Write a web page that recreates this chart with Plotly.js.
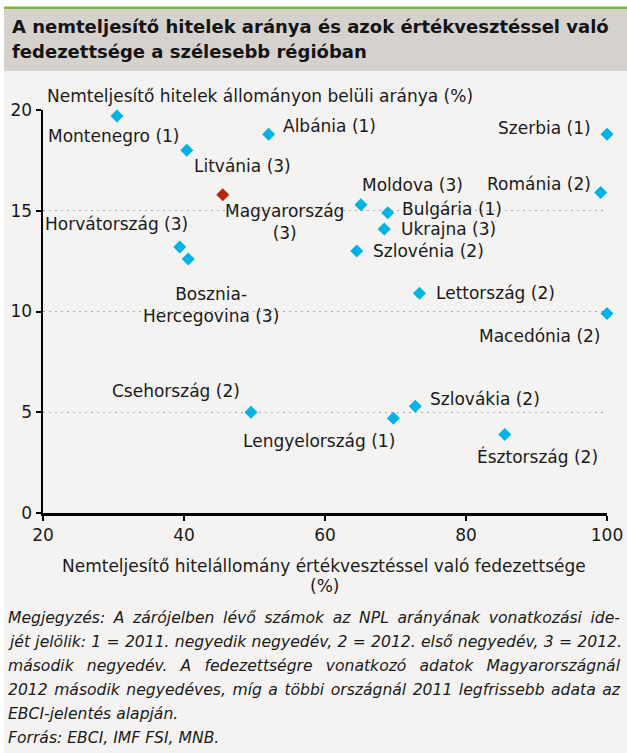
<!DOCTYPE html>
<html>
<head>
<meta charset="utf-8">
<script src="https://cdn.plot.ly/plotly-3.0.1.min.js"></script>
<style>html,body{margin:0;padding:0;background:#fff;}#chart{width:627px;height:753px;}</style>
</head>
<body>
<div id="chart"></div>
<script>
// ---- data ----
const countries = ['Montenegro (1)', 'Albánia (1)', 'Litvánia (3)', 'Horvátország (3)', 'Bosznia-<br>Hercegovina (3)',
  'Szerbia (1)', 'Románia (2)', 'Moldova (3)', 'Bulgária (1)', 'Ukrajna (3)', 'Szlovénia (2)', 'Lettország (2)',
  'Macedónia (2)', 'Csehország (2)', 'Szlovákia (2)', 'Lengyelország (1)', 'Észtország (2)'];
const coverage = [30.5, 52.0, 40.4, 39.4, 40.6, 100.0, 99.1, 65.1, 68.9, 68.4, 64.5, 73.4, 100.0, 49.5, 72.8, 69.7, 85.5];
const nplRatio = [19.7, 18.8, 18.0, 13.2, 12.6, 18.8, 15.9, 15.3, 14.9, 14.1, 13.0, 10.9, 9.9, 5.0, 5.3, 4.7, 3.9];
const huLabel = ['Magyarország<br>(3)'];
const huCoverage = [45.5];
const huNpl = [15.8];
const xTicks = [20, 40, 60, 80, 100];
const yTicks = [0, 5, 10, 15, 20];
const titleLines = ['A nemteljesítő hitelek aránya és azok értékvesztéssel való', 'fedezettsége a szélesebb régióban'];
const yTitle = 'Nemteljesítő hitelek állományon belüli aránya (%)';
const xTitleLines = ['Nemteljesítő hitelállomány értékvesztéssel való fedezettsége', '(%)'];
const noteLines = [
  'Megjegyzés: A zárójelben lévő számok az NPL arányának vonatkozási ide-',
  'jét jelölik: 1 = 2011. negyedik negyedév, 2 = 2012. első negyedév, 3 = 2012.',
  'második negyedév. A fedezettségre vonatkozó adatok Magyarországnál',
  '2012 második negyedéves, míg a többi országnál 2011 legfrissebb adata az',
  'EBCI-jelentés alapján.',
  'Forrás: EBCI, IMF FSI, MNB.'
];
const justifiedLines = 4; // first lines of the note are justified

// ---- label placement (style: pixel offsets from each point) ----
const labelStyle = [
  {dx: -3, dy: 20, a: 'center'},   // Montenegro
  {dx: 12, dy: -8, a: 'left'},     // Albánia
  {dx: 5, dy: 16, a: 'left'},      // Litvánia
  {dx: 10, dy: -23, a: 'right'},   // Horvátország
  {dx: 23, dy: 46, a: 'center'},   // Bosznia
  {dx: -14, dy: -6, a: 'right'},   // Szerbia
  {dx: -8, dy: -9, a: 'right'},    // Románia
  {dx: -1, dy: -20, a: 'left'},    // Moldova
  {dx: 12, dy: -4, a: 'left'},     // Bulgária
  {dx: 15, dy: 0, a: 'left'},      // Ukrajna
  {dx: 14, dy: 0, a: 'left'},      // Szlovénia
  {dx: 15, dy: 0, a: 'left'},      // Lettország
  {dx: -5, dy: 22, a: 'right'},    // Macedónia
  {dx: -9, dy: -21, a: 'right'},   // Csehország
  {dx: 13, dy: -7, a: 'left'},     // Szlovákia
  {dx: 4, dy: 23, a: 'right'},     // Lengyelország
  {dx: 33, dy: 22, a: 'center'}    // Észtország
];
const huStyle = {dx: 62, dy: 27, a: 'center'};

const W = 627, H = 753;
const M = {l: 43, r: 20, t: 110, b: 240};
const pw = W - M.l - M.r, ph = H - M.t - M.b;
const fx = px => (px - M.l) / pw;
const fy = py => 1 - (py - M.t) / ph;

const FONT = 'DejaVu Sans';
const TXT = '#1a1a1a';
const CYAN = '#00b2e6';
const RED = '#b3260e';
const LBL = 17;
const NOTE_W = 612;

const annotations = [];
countries.forEach((c, i) => {
  const s = labelStyle[i];
  annotations.push({x: coverage[i], y: nplRatio[i], xref: 'x', yref: 'y', text: c, showarrow: false,
    xanchor: s.a, yanchor: 'middle', xshift: s.dx, yshift: -s.dy, align: 'center',
    font: {family: FONT, size: LBL, color: TXT}});
});
annotations.push({x: huCoverage[0], y: huNpl[0], xref: 'x', yref: 'y', text: huLabel[0], showarrow: false,
  xanchor: huStyle.a, yanchor: 'middle', xshift: huStyle.dx, yshift: -huStyle.dy, align: 'center',
  font: {family: FONT, size: LBL, color: TXT}});

// titles
[27, 52].forEach((py, i) => annotations.push({xref: 'paper', yref: 'paper', x: fx(10), y: fy(py), text: '<b>' + titleLines[i] + '</b>',
  showarrow: false, xanchor: 'left', yanchor: 'middle', font: {family: FONT, size: 18, color: '#141414'}}));
annotations.push({xref: 'paper', yref: 'paper', x: fx(45), y: fy(96), text: yTitle, showarrow: false,
  xanchor: 'left', yanchor: 'middle', font: {family: FONT, size: LBL, color: TXT}});
[566, 586].forEach((py, i) => annotations.push({xref: 'paper', yref: 'paper', x: fx(324), y: fy(py), text: xTitleLines[i],
  showarrow: false, xanchor: 'center', yanchor: 'middle', font: {family: FONT, size: LBL, color: TXT}}));
noteLines.forEach((t, i) => annotations.push({xref: 'paper', yref: 'paper', x: fx(6), y: fy(618 + 24 * i), text: t,
  showarrow: false, xanchor: 'left', yanchor: 'middle', align: 'left', name: 'note' + i,
  font: {family: FONT, size: 15.6, color: TXT, style: 'italic'}}));

const shapes = [
  {type: 'rect', xref: 'paper', yref: 'paper', x0: fx(4), x1: fx(W), y0: fy(9), y1: fy(H), fillcolor: '#f4f3f1', line: {width: 0}, layer: 'below'},
  {type: 'rect', xref: 'paper', yref: 'paper', x0: fx(4), x1: fx(W), y0: fy(9), y1: fy(71), fillcolor: '#d5d1cd', line: {width: 0}, layer: 'below'},
  {type: 'rect', xref: 'paper', yref: 'paper', x0: fx(4), x1: fx(W), y0: fy(6.5), y1: fy(9), fillcolor: '#7dba3c', line: {width: 0}, layer: 'below'}
];

const traces = [
  {x: coverage, y: nplRatio, type: 'scatter', mode: 'markers', cliponaxis: false,
   marker: {symbol: 'diamond', size: 10, color: CYAN}, hoverinfo: 'skip'},
  {x: huCoverage, y: huNpl, type: 'scatter', mode: 'markers', cliponaxis: false,
   marker: {symbol: 'diamond', size: 10, color: RED}, hoverinfo: 'skip'}
];

const layout = {
  width: W, height: H, margin: M, showlegend: false,
  paper_bgcolor: '#ffffff', plot_bgcolor: 'rgba(0,0,0,0)',
  font: {family: FONT, size: 16, color: TXT},
  xaxis: {range: [20, 100], tickvals: xTicks, ticktext: xTicks.map(String), showgrid: false, zeroline: false,
    showline: true, linecolor: '#000', linewidth: 2.5, ticks: 'outside', ticklen: 5, tickwidth: 2, tickcolor: '#000',
    tickfont: {family: FONT, size: 17, color: TXT}, fixedrange: true},
  yaxis: {range: [0, 20], tickvals: yTicks, ticktext: yTicks.map(String), showgrid: true, gridcolor: '#a8a8a8', gridwidth: 1,
    griddash: '2px,4px', zeroline: false,
    showline: true, linecolor: '#000', linewidth: 2.5, ticks: 'outside', ticklen: 5, tickwidth: 2, tickcolor: '#000',
    tickfont: {family: FONT, size: 17, color: TXT}, fixedrange: true},
  annotations: annotations, shapes: shapes
};

Plotly.newPlot('chart', traces, layout, {staticPlot: true, displayModeBar: false}).then(gd => {
  // justify the first note lines by widening the word spacing
  const texts = gd.querySelectorAll('.annotation-text');
  texts.forEach(el => {
    const idx = noteLines.indexOf(el.textContent);
    if (idx < 0 || idx >= justifiedLines) return;
    const len = el.getComputedTextLength();
    const spaces = (el.textContent.match(/ /g) || []).length;
    if (spaces > 0 && len < NOTE_W) el.style.wordSpacing = ((NOTE_W - len) / spaces).toFixed(2) + 'px';
  });
});
</script>
</body>
</html>
